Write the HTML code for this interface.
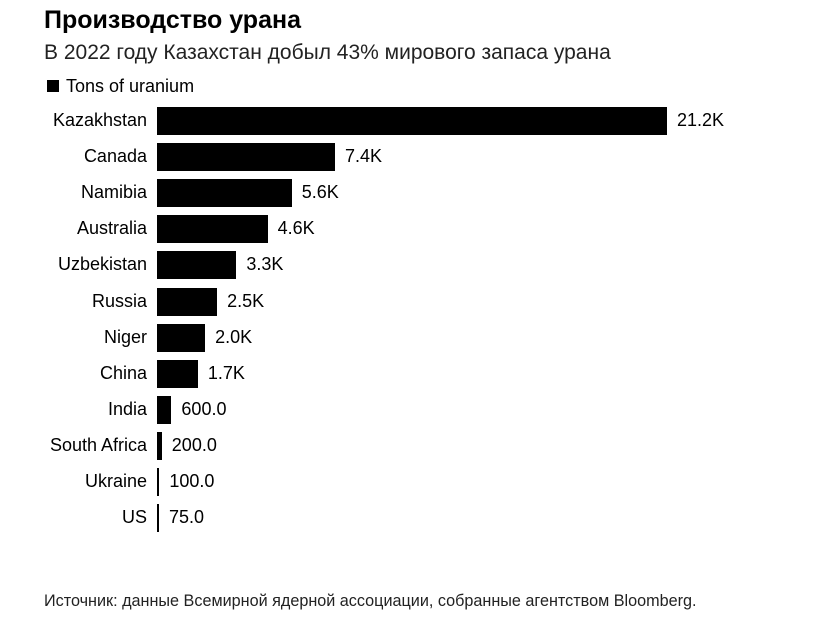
<!DOCTYPE html>
<html><head><meta charset="utf-8"><style>
body{margin:0;width:825px;height:632px;background:#fff;font-family:"Liberation Sans","Noto Sans CJK SC",sans-serif;color:#000;position:relative;overflow:hidden}
.t{position:absolute;white-space:nowrap}
.bar{position:absolute;background:#000;height:28px}
.lab{position:absolute;right:678px;font-size:18px;text-align:right;white-space:nowrap}
.val{position:absolute;font-size:18px;white-space:nowrap}
</style></head><body>
<div class="t" style="left:44px;top:6px;font-size:25px;font-weight:bold">Производство урана</div>
<div class="t" style="left:44px;top:41px;font-size:21px;color:#222">В 2022 году Казахстан добыл 43% мирового запаса урана</div>
<div class="t" style="left:47px;top:76px;font-size:18px"><span style="display:inline-block;width:12px;height:12px;background:#000;margin-right:7px;vertical-align:0px"></span>Tons of uranium</div>
<div id="c"></div>
<div class="t" style="left:44px;top:592px;font-size:16.2px;color:#222">Источник: данные Всемирной ядерной ассоциации, собранные агентством Bloomberg.</div>
<script>
var d=[["Kazakhstan",21200,"21.2K"],["Canada",7400,"7.4K"],["Namibia",5600,"5.6K"],["Australia",4600,"4.6K"],["Uzbekistan",3300,"3.3K"],["Russia",2500,"2.5K"],["Niger",2000,"2.0K"],["China",1700,"1.7K"],["India",600,"600.0"],["South Africa",200,"200.0"],["Ukraine",100,"100.0"],["US",75,"75.0"]];
var h="";d.forEach(function(r,i){var cy=121+i*36.1;var w=Math.max(2,r[1]/21200*510);
h+='<div class="lab" style="top:'+(cy-11)+'px">'+r[0]+'</div>';
h+='<div class="bar" style="left:157px;top:'+(cy-14)+'px;width:'+w+'px"></div>';
h+='<div class="val" style="left:'+(157+w+10)+'px;top:'+(cy-11)+'px">'+r[2]+'</div>';});
document.getElementById("c").innerHTML=h;
</script>
</body></html>
